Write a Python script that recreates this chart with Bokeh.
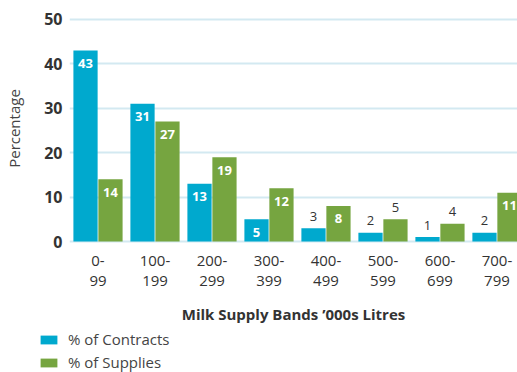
from bokeh.plotting import figure
from bokeh.models import ColumnDataSource, Range1d, FixedTicker, Legend, LegendItem
from bokeh.transform import dodge
from bokeh.core.properties import value
from bokeh.embed import file_html
from bokeh.resources import INLINE

# ---- data ----
categories = ["0-\n99", "100-\n199", "200-\n299", "300-\n399",
              "400-\n499", "500-\n599", "600-\n699", "700-\n799"]
contracts = [43, 31, 13, 5, 3, 2, 1, 2]
supplies = [14, 27, 19, 12, 8, 5, 4, 11]
contracts_label_inside = [True, True, True, True, False, False, False, False]
supplies_label_inside = [True, True, True, True, True, False, False, True]
y_ticks = [0, 10, 20, 30, 40, 50]
series_names = ["% of Contracts", "% of Supplies"]

BLUE = "#00a9ce"
GREEN = "#76a540"
GRID = "#d3e9f1"
FONT = "Open Sans"

xs = list(range(len(categories)))

def label_cols(vals, inside):
    return dict(
        x=xs, v=vals, t=[str(v) for v in vals],
        col=["#ffffff" if i else "#333333" for i in inside],
        sty=["bold" if i else "normal" for i in inside],
        yo=[13 if i else -12 for i in inside],
    )

src_c = ColumnDataSource(label_cols(contracts, contracts_label_inside))
src_s = ColumnDataSource(label_cols(supplies, supplies_label_inside))

MAIN_H = 326
p = figure(width=517, height=MAIN_H, output_backend="svg", toolbar_location=None,
           x_range=Range1d(-0.5, 7.36), y_range=Range1d(-0.67, 51.57),
           min_border_left=69, min_border_right=0, min_border_top=12,
           min_border_bottom=MAIN_H - 245)
p.outline_line_color = None
p.background_fill_color = "white"
p.border_fill_color = "white"

off = 0.219
w = 0.425
r_c = p.vbar(x=dodge("x", -off), top="v", width=w, source=src_c,
             fill_color=BLUE, line_color=None)
r_s = p.vbar(x=dodge("x", off), top="v", width=w, source=src_s,
             fill_color=GREEN, line_color=None)

for src, o in ((src_c, -off), (src_s, off)):
    p.text(x=dodge("x", o), y="v", text="t", source=src,
           text_color="col", text_font_style="sty", y_offset="yo",
           text_align="center", text_baseline="middle",
           text_font=value(FONT), text_font_size="13px")

# grid
p.xgrid.grid_line_color = None
p.ygrid.ticker = FixedTicker(ticks=y_ticks)
p.ygrid.grid_line_color = GRID
p.ygrid.grid_line_width = 2

# y axis
p.yaxis.ticker = FixedTicker(ticks=y_ticks)
p.yaxis.axis_line_color = None
p.yaxis.major_tick_line_color = None
p.yaxis.minor_tick_line_color = None
p.yaxis.major_tick_out = 0
p.yaxis.major_tick_in = 0
p.yaxis.minor_tick_out = 0
p.yaxis.major_label_text_font = FONT
p.yaxis.major_label_text_font_style = "bold"
p.yaxis.major_label_text_font_size = "16px"
p.yaxis.major_label_text_color = "#333333"
p.yaxis.major_label_standoff = 7
p.yaxis.axis_label = "Percentage"
p.yaxis.axis_label_text_font = FONT
p.yaxis.axis_label_text_font_style = "normal"
p.yaxis.axis_label_text_font_size = "15px"
p.yaxis.axis_label_text_color = "#444444"
p.yaxis.axis_label_standoff = 17

# x axis
p.xaxis.ticker = FixedTicker(ticks=xs)
p.xaxis.major_label_overrides = {i: c for i, c in zip(xs, categories)}
p.xaxis.axis_line_color = None
p.xaxis.major_tick_line_color = None
p.xaxis.minor_tick_line_color = None
p.xaxis.major_tick_out = 0
p.xaxis.major_tick_in = 0
p.xaxis.minor_tick_out = 0
p.xaxis.major_label_text_font = FONT
p.xaxis.major_label_text_font_size = "15px"
p.xaxis.major_label_text_color = "#333333"
p.xaxis.major_label_text_line_height = 1.0
p.xaxis.major_label_standoff = 5
p.xaxis.axis_label = "Milk Supply Bands \u2019000s Litres"
p.xaxis.axis_label_text_font = FONT
p.xaxis.axis_label_text_font_style = "bold"
p.xaxis.axis_label_text_font_size = "15px"
p.xaxis.axis_label_text_color = "#333333"
p.xaxis.axis_label_standoff = 11

# legend in its own strip below the chart (same series; ranges keep bars out of view)
LEG_H = 372 - MAIN_H
lp = figure(width=517, height=LEG_H, output_backend="svg", toolbar_location=None,
            x_range=Range1d(100, 101), y_range=Range1d(100, 101),
            x_axis_location=None, y_axis_location=None,
            min_border=0, min_border_left=0, min_border_right=0,
            min_border_top=0, min_border_bottom=0)
lp.grid.visible = False
lp.outline_line_color = None
lp.border_fill_color = "white"
lp.background_fill_color = "white"
lc = lp.vbar(x=dodge("x", -off), top="v", width=w, source=src_c,
             fill_color=BLUE, line_color=None)
ls = lp.vbar(x=dodge("x", off), top="v", width=w, source=src_s,
             fill_color=GREEN, line_color=None)
legend = Legend(items=[LegendItem(label=series_names[0], renderers=[lc]),
                       LegendItem(label=series_names[1], renderers=[ls])],
                location=(38, 0), orientation="vertical",
                glyph_width=21, glyph_height=11, label_height=20,
                spacing=3, padding=0, margin=0, label_standoff=9,
                label_text_font=FONT, label_text_font_size="15px",
                label_text_color="#444444",
                border_line_color=None, background_fill_alpha=0)
lp.add_layout(legend)

open("out.html", "w").write(file_html((p, lp), INLINE))
